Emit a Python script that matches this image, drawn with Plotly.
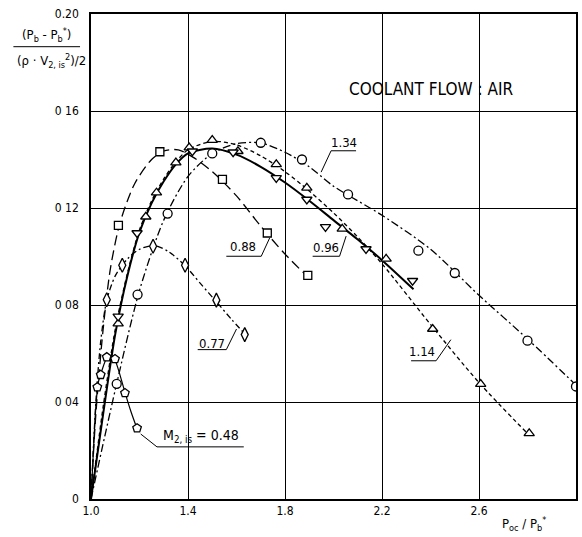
import plotly.graph_objects as go

m134_x = [1.106, 1.192, 1.316, 1.50, 1.70, 1.87, 2.06, 2.35, 2.50, 2.80, 3.0]
m134_y = [0.0475, 0.0843, 0.1177, 0.1425, 0.1469, 0.140, 0.1256, 0.1024, 0.0932, 0.0653, 0.0464]

m114_x = [1.112, 1.226, 1.27, 1.35, 1.405, 1.50, 1.606, 1.764, 1.89, 2.036, 2.217, 2.409, 2.607, 2.807]
m114_y = [0.0723, 0.1164, 0.1263, 0.1387, 0.1449, 0.148, 0.1434, 0.138, 0.1283, 0.1114, 0.099, 0.0701, 0.0474, 0.0271]

m096_x = [1.112, 1.19, 1.418, 1.586, 1.764, 1.89, 1.967, 2.134, 2.326]
m096_y = [0.0753, 0.1097, 0.1434, 0.143, 0.1324, 0.1235, 0.1122, 0.1031, 0.090]

m088_x = [1.113, 1.284, 1.542, 1.727, 1.894]
m088_y = [0.1128, 0.1432, 0.1318, 0.1097, 0.0922]

m077_x = [1.065, 1.129, 1.256, 1.388, 1.517, 1.634]
m077_y = [0.0822, 0.0964, 0.1042, 0.0964, 0.082, 0.0678]

m048_x = [1.026, 1.040, 1.065, 1.099, 1.140, 1.19]
m048_y = [0.0461, 0.0512, 0.0585, 0.0577, 0.0437, 0.0292]

# ---- faired curves ----
c134_x = [1.0, 1.10, 1.2, 1.3, 1.4, 1.5, 1.6, 1.7, 1.8, 1.9, 2.0, 2.2, 2.4, 2.6, 2.8, 3.0]
c134_y = [0.0, 0.045, 0.086, 0.115, 0.133, 0.1425, 0.1465, 0.1468, 0.143, 0.137, 0.129, 0.117, 0.103, 0.084, 0.066, 0.047]

c114_x = [1.0, 1.05, 1.1, 1.15, 1.2, 1.25, 1.3, 1.35, 1.4, 1.5, 1.6, 1.7, 1.8, 1.9, 2.0, 2.1, 2.2, 2.4, 2.6, 2.8]
c114_y = [0.0, 0.038, 0.07, 0.093, 0.111, 0.123, 0.132, 0.139, 0.144, 0.1475, 0.146, 0.1415, 0.135, 0.127, 0.118, 0.108, 0.097, 0.072, 0.048, 0.027]

c096_x = [1.0, 1.05, 1.1, 1.15, 1.2, 1.25, 1.3, 1.35, 1.4, 1.5, 1.6, 1.7, 1.8, 1.9, 2.0, 2.1, 2.2, 2.33]
c096_y = [0.0, 0.035, 0.068, 0.092, 0.11, 0.122, 0.131, 0.138, 0.1425, 0.1445, 0.142, 0.137, 0.1305, 0.123, 0.115, 0.107, 0.0985, 0.0865]

c088_x = [1.0, 1.02, 1.05, 1.08, 1.12, 1.18, 1.25, 1.3, 1.36, 1.42, 1.5, 1.6, 1.7, 1.8, 1.9]
c088_y = [0.0, 0.035, 0.07, 0.095, 0.114, 0.13, 0.14, 0.1435, 0.144, 0.141, 0.135, 0.125, 0.1125, 0.101, 0.091]

c077_x = [1.0, 1.02, 1.04, 1.065, 1.1, 1.15, 1.2, 1.26, 1.32, 1.39, 1.45, 1.52, 1.58, 1.635]
c077_y = [0.0, 0.04, 0.065, 0.082, 0.092, 0.099, 0.103, 0.1045, 0.102, 0.096, 0.089, 0.081, 0.074, 0.068]

c048_x = [1.0, 1.01, 1.02, 1.03, 1.045, 1.065, 1.085, 1.1, 1.12, 1.14, 1.165, 1.19]
c048_y = [0.0, 0.02, 0.038, 0.048, 0.053, 0.058, 0.059, 0.057, 0.051, 0.044, 0.036, 0.029]

x_ticks = [1.0, 1.4, 1.8, 2.2, 2.6, 3.0]
x_ticktext = ["1.0", "1.4", "1.8", "2.2", "2.6", "3.0"]
y_ticks = [0.0, 0.04, 0.08, 0.12, 0.16, 0.20]
y_ticktext = ["0", "0 04", "0 08", "0 12", "0 16", "0.20"]

FONT = "DejaVu Sans Condensed, DejaVu Sans, Arial"

fig = go.Figure()

curves = [
    (c134_x, c134_y, "8px,3px,2px,3px", 1.3),
    (c114_x, c114_y, "4px,3px", 1.3),
    (c096_x, c096_y, "solid", 2.0),
    (c088_x, c088_y, "10px,5px", 1.3),
    (c077_x, c077_y, "6px,3px,2px,3px", 1.3),
    (c048_x, c048_y, "solid", 1.2),
]
for cx, cy, dash, w in curves:
    fig.add_trace(go.Scatter(x=cx, y=cy, mode="lines",
                             line=dict(color="black", width=w, dash=dash, shape="spline", smoothing=0.8),
                             hoverinfo="skip", showlegend=False))

marks = [
    (m134_x, m134_y, "circle", 9),
    (m114_x, m114_y, "triangle-up", 9),
    (m096_x, m096_y, "triangle-down", 9),
    (m088_x, m088_y, "square", 8),
    (m077_x, m077_y, "diamond-tall", 10),
    (m048_x, m048_y, "pentagon", 9),
]
for mx, my, sym, sz in marks:
    fig.add_trace(go.Scatter(x=mx, y=my, mode="markers",
                             marker=dict(symbol=sym, size=sz, color="white", line=dict(color="black", width=1.3)),
                             showlegend=False))

# labels with leader lines: text pos, underline x0,x1,y, leader end
labels = [
    ("1.34", 2.045, 0.1471, 1.990, 2.093, 0.1436, 1.949, 0.1348, "left"),
    ("0.88", 1.627, 0.1043, 1.558, 1.702, 0.1001, 1.737, 0.1077, "right"),
    ("0.96", 1.970, 0.1036, 1.914, 2.025, 0.1001, 2.052, 0.1084, "right"),
    ("1.14", 2.365, 0.0609, 2.320, 2.423, 0.0570, 2.484, 0.0657, "right"),
    ("0.77", 1.497, 0.0643, 1.440, 1.558, 0.0616, 1.600, 0.0701, "right"),
]
for txt, tx, ty, ux0, ux1, uy, lx, ly, side in labels:
    fig.add_annotation(x=tx, y=ty, text=txt, showarrow=False, xanchor="center",
                       font=dict(family=FONT, size=13, color="black"))
    fig.add_shape(type="line", x0=ux0, x1=ux1, y0=uy, y1=uy, line=dict(color="black", width=1))
    sx = ux0 if side == "left" else ux1
    fig.add_shape(type="line", x0=sx, x1=lx, y0=uy, y1=ly, line=dict(color="black", width=1))

# M2,is = 0.48 label
fig.add_annotation(x=1.455, y=0.0258, text="M<sub>2, is</sub> = 0.48", showarrow=False, xanchor="center",
                   font=dict(family=FONT, size=14, color="black"))
fig.add_shape(type="line", x0=1.272, x1=1.630, y0=0.0215, y1=0.0215, line=dict(color="black", width=1))
fig.add_shape(type="line", x0=1.205, x1=1.272, y0=0.0268, y1=0.0215, line=dict(color="black", width=1))

fig.add_annotation(x=2.403, y=0.169, text="COOLANT FLOW : AIR", showarrow=False, xanchor="center",
                   font=dict(family=FONT, size=17, color="black"))

# y-axis title as a fraction
fig.add_annotation(xref="paper", yref="paper", x=-0.0914, y=0.957, xanchor="center", yanchor="middle",
                   text="(P<sub>b</sub> - P<sub>b</sub><sup>*</sup>)",
                   showarrow=False, font=dict(family=FONT, size=13, color="black"))
fig.add_shape(type="line", xref="paper", yref="paper", x0=-0.160, x1=-0.0226, y0=0.9326, y1=0.9326,
              line=dict(color="black", width=1))
fig.add_annotation(xref="paper", yref="paper", x=-0.081, y=0.904, xanchor="center", yanchor="middle",
                   text="(ρ · V<sub>2, is</sub><sup>2</sup>)/2",
                   showarrow=False, font=dict(family=FONT, size=13, color="black"))

# x-axis title
fig.add_annotation(xref="paper", yref="paper", x=0.893, y=-0.051, xanchor="center", yanchor="middle",
                   text="P<sub>oc</sub> / P<sub>b</sub><sup>*</sup>",
                   showarrow=False, font=dict(family=FONT, size=13, color="black"))

axis_common = dict(showline=True, mirror=True, linecolor="black", linewidth=1.5,
                   showgrid=True, gridcolor="black", gridwidth=1, zeroline=False, ticks="",
                   tickfont=dict(family=FONT, size=12, color="black"))

fig.update_layout(
    width=582, height=537,
    margin=dict(l=91, r=4, t=14, b=38),
    paper_bgcolor="white", plot_bgcolor="white",
    xaxis=dict(range=[1.0, 3.0], tickvals=x_ticks, ticktext=x_ticktext, **axis_common),
    yaxis=dict(range=[0.0, 0.20], tickvals=y_ticks, ticktext=y_ticktext, ticklabelstandoff=8, **axis_common),
    showlegend=False,
)

fig.write_html("out.html")
